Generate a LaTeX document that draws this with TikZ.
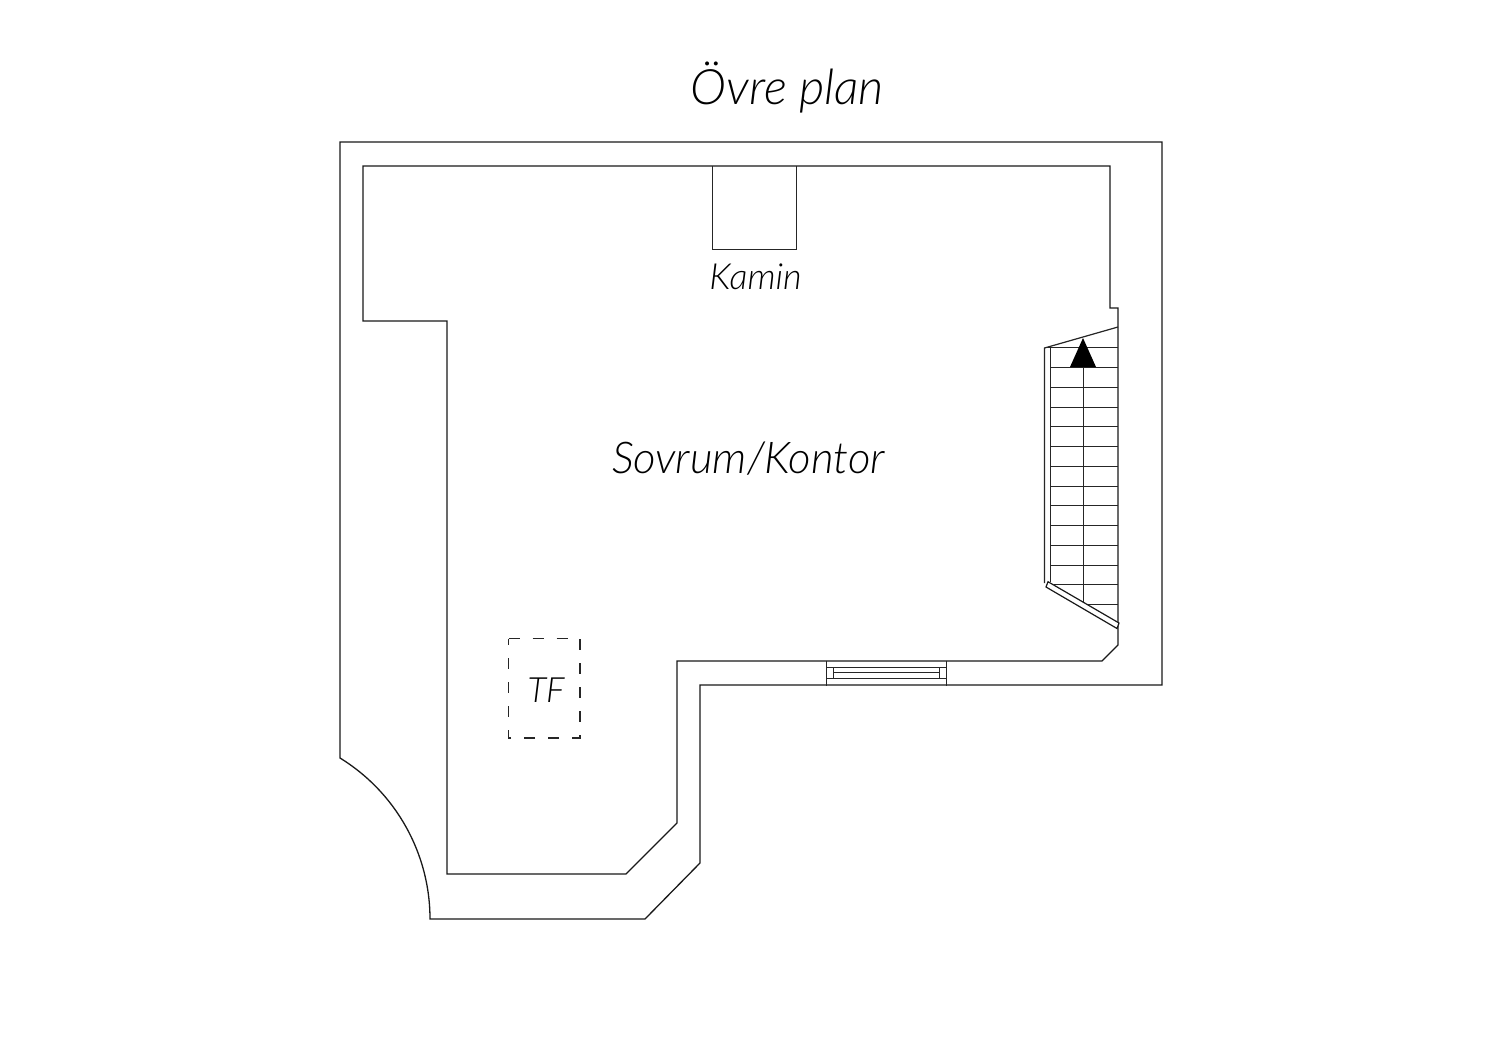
\documentclass[tikz,border=0pt]{standalone}
\usepackage{fontspec}
\setmainfont{Lato Light}
\begin{document}
\begin{tikzpicture}[x=0.5pt,y=-0.5pt,
  wall/.style={draw=black!90,line width=0.65pt,line join=miter},
  thin/.style={draw=black!85,line width=0.6pt},
  lbl/.style={inner sep=0pt,text=black,font=\itshape}]
\useasboundingbox (0,0) rectangle (1500,1060);
\fill[white] (0,0) rectangle (1500,1060);
% outer wall
\draw[wall] (340,142) -- (1162,142) -- (1162,685) -- (700,685) -- (700,863) -- (645,919) -- (430,919)
  .. controls (430,853.4) and (395.9,792.4) .. (340,758) -- cycle;
% inner wall
\draw[wall] (363,166) -- (1110,166) -- (1110,308) -- (1118,308) -- (1118,645) -- (1102,661) -- (677,661)
  -- (677,823) -- (626,874) -- (447,874) -- (447,321) -- (363,321) -- cycle;
% fireplace
\draw[thin] (712.3,166) -- (712.3,249.3) -- (796.3,249.3) -- (796.3,166);
% window
\draw[thin] (826.5,660.5) -- (826.5,685.5) (946.5,660.5) -- (946.5,685.5);
\draw[thin] (826.5,667.5) -- (946.5,667.5) (826.5,678.5) -- (946.5,678.5);
\draw[thin] (833.5,667.5) -- (833.5,678.5) (939.5,667.5) -- (939.5,678.5);
\draw[thin] (833.5,672.5) -- (939.5,672.5);
% stair
\draw[thin] (1044.5,583) -- (1044.5,348) -- (1118,327);
\draw[thin] (1050.5,348) -- (1050.5,582);
\draw[thin] (1044.5,347.5) -- (1118,347.5);
\foreach \yy in {367.5,387.5,407.5,426.5,446.5,466.5,486.5,505.5,525.5,545.5,565.5}
  \draw[thin] (1050.5,\yy) -- (1118,\yy);
\draw[thin] (1054,584.5) -- (1118,584.5);
\draw[thin] (1088,604.5) -- (1118,604.5);
\draw[thin] (1083.5,345) -- (1083.5,602);
\fill[black] (1083,338) -- (1096,367) -- (1070,367) -- cycle;
\filldraw[fill=white,draw=black!90,line width=0.6pt] (1048,581.7) -- (1119,623) -- (1117,628.5) -- (1046,587) -- cycle;
% hatch opening
\draw[thin,dash pattern=on 5.5pt off 6.5pt] (508.5,638.5) -- (580,638.5) -- (580,738) -- (508.5,738) -- cycle;
% labels
\node[lbl,font=\itshape\fontsize{24.4}{28}\selectfont] (title) at (787.5,88) {Övre plan};
\node[lbl,font=\itshape\fontsize{18}{22}\selectfont] (kamin) at (755.5,277) {Kamin};
\node[lbl,font=\itshape\fontsize{21.9}{26}\selectfont] (room) at (748.5,459) {Sovrum/Kontor};
\node[lbl,font=\itshape\fontsize{17.4}{20}\selectfont] (tf) at (546,690) {TF};
\end{tikzpicture}
\end{document}
